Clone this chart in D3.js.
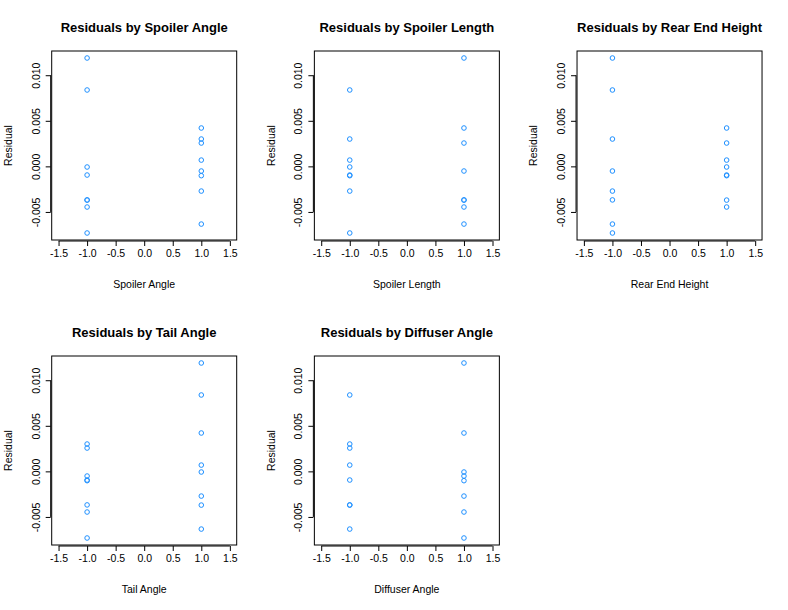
<!DOCTYPE html>
<html lang="en">
<head>
<meta charset="utf-8">
<script src="https://d3js.org/d3.v7.min.js"></script>
<style>
  body { margin: 0; background: #fff; }
  svg text { font-family: "Liberation Sans", Arial, sans-serif; fill: #000; }
  .title { font-size: 13px; font-weight: bold; }
  .lab { font-size: 10.5px; }
  .pt { fill: none; stroke: #1E90FF; stroke-width: 1; }
</style>
</head>
<body>
<svg id="chart" width="788" height="610"></svg>
<script>
// residuals of the 16 runs
let residuals = [0.01189, 0.00838, 0.00421, 0.00300, 0.00256, 0.00069, -0.00007, -0.00051,
                 -0.00095, -0.00102, -0.00271, -0.00368, -0.00370, -0.00446, -0.00633, -0.00731]
// coded factor levels for each run
let spoilerAngle   = [-1, -1,  1,  1,  1,  1, -1,  1, -1,  1,  1, -1, -1, -1,  1, -1]
let spoilerLength  = [ 1, -1,  1, -1,  1, -1, -1,  1, -1, -1, -1,  1,  1,  1,  1, -1]
let rearEndHeight  = [-1, -1,  1, -1,  1,  1,  1, -1,  1,  1, -1, -1,  1,  1, -1, -1]
let tailAngle      = [ 1,  1,  1, -1, -1,  1,  1, -1, -1, -1,  1, -1,  1, -1,  1, -1]
let diffuserAngle  = [ 1, -1,  1, -1, -1, -1,  1,  1, -1,  1,  1, -1, -1,  1, -1,  1]

let factorNames = ["Spoiler Angle", "Spoiler Length", "Rear End Height", "Tail Angle", "Diffuser Angle"]
let factorLevels = [spoilerAngle, spoilerLength, rearEndHeight, tailAngle, diffuserAngle]
let xTicks = [-1.5, -1.0, -0.5, 0.0, 0.5, 1.0, 1.5]
let yTicks = [0.010, 0.005, 0.000, -0.005]

let cellW = 788 / 3, cellH = 305
let plot = {left: 51.7, right: 236.7, top: 51, bottom: 240}

// R style axis ranges (4% padding)
let xlim = [-1.5, 1.5]
let ext = d3.extent(residuals)
let xpad = (xlim[1] - xlim[0]) * 0.04, ypad = (ext[1] - ext[0]) * 0.04
let x = d3.scaleLinear().domain([xlim[0] - xpad, xlim[1] + xpad]).range([plot.left, plot.right])
let y = d3.scaleLinear().domain([ext[0] - ypad, ext[1] + ypad]).range([plot.bottom, plot.top])

let svg = d3.select("#chart")

factorNames.forEach((name, k) => {
  let g = svg.append("g")
    .attr("transform", `translate(${(k % 3) * cellW}, ${Math.floor(k / 3) * cellH})`)
  let levels = factorLevels[k]
  let pts = residuals.map((r, i) => ({x: levels[i], y: r}))

  g.selectAll(".pt").data(pts).enter().append("circle").classed("pt", true)
    .attr("cx", d => x(d.x)).attr("cy", d => y(d.y)).attr("r", 2.3)

  g.append("rect").attr("x", plot.left).attr("y", plot.top)
    .attr("width", plot.right - plot.left).attr("height", plot.bottom - plot.top)
    .attr("fill", "none").attr("stroke", "#000").attr("stroke-width", 1)

  // x axis
  let xa = g.append("g").attr("transform", `translate(0, ${plot.bottom + 1})`)
    .call(d3.axisBottom(x).tickValues(xTicks).tickFormat(d3.format(".1f")).tickSize(5).tickPadding(4))
  xa.attr("font-size", null)
  xa.select(".domain").attr("d", `M${x(xTicks[0])},0H${x(xTicks[xTicks.length - 1])}`)
  xa.selectAll(".tick text").style("font-size", "10.5px")
    .text(d => d3.format(".1f")(d).replace("−", "-"))

  // y axis
  let ya = g.append("g").attr("transform", `translate(${plot.left - 1}, 0)`)
    .call(d3.axisLeft(y).tickValues(yTicks).tickSize(5))
  ya.attr("font-size", null)
  ya.select(".domain").attr("d", `M0,${y(yTicks[0])}V${y(yTicks[yTicks.length - 1])}`)
  ya.selectAll(".tick text").remove()
  ya.selectAll(".tick").append("text")
    .attr("transform", "translate(-11, 0) rotate(-90)")
    .attr("text-anchor", "middle").style("font-size", "10.5px")
    .text(d => d3.format(".3f")(d).replace("−", "-"))

  g.append("text").classed("title", true)
    .attr("x", (plot.left + plot.right) / 2).attr("y", 32)
    .attr("text-anchor", "middle").text("Residuals by " + name)

  g.append("text").classed("lab", true)
    .attr("x", (plot.left + plot.right) / 2).attr("y", 288)
    .attr("text-anchor", "middle").text(name)

  g.append("text").classed("lab", true)
    .attr("transform", `translate(12, ${(plot.top + plot.bottom) / 2}) rotate(-90)`)
    .attr("text-anchor", "middle").text("Residual")
})
</script>
</body>
</html>
